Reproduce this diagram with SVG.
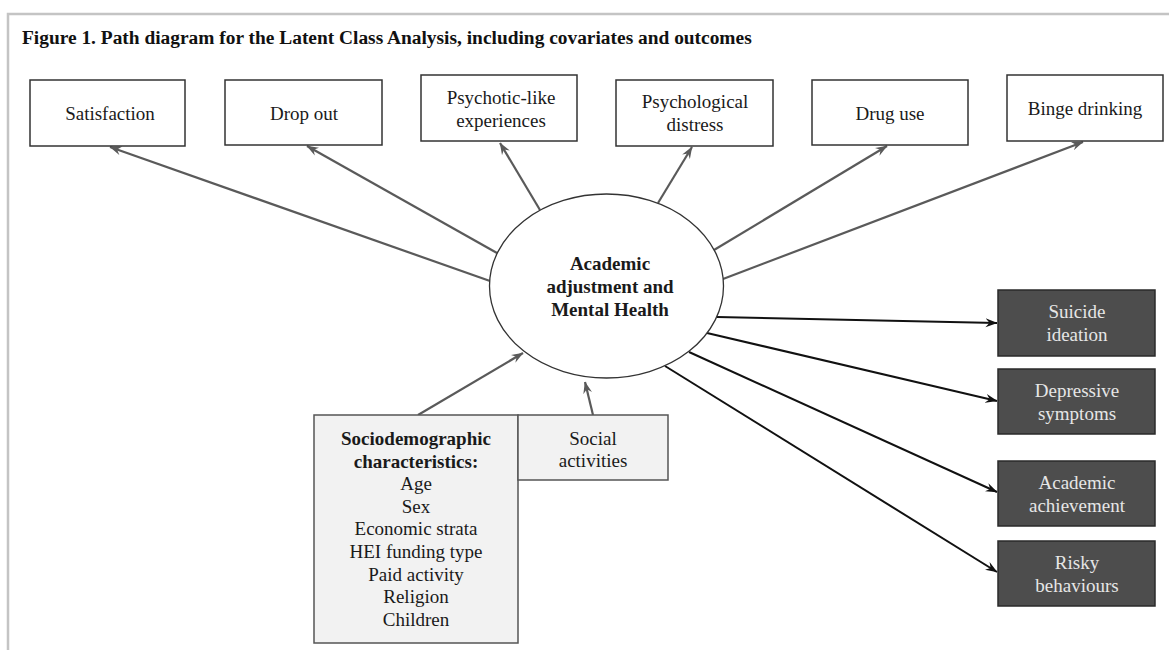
<svg xmlns="http://www.w3.org/2000/svg" width="1169" height="650" viewBox="0 0 1169 650">
<defs>
<style>
text{font-family:"Liberation Serif","Times New Roman",serif;font-size:19px;text-anchor:middle;fill:#1a1a1a}
.title{font-size:19.4px;font-weight:bold;text-anchor:start;fill:#111}
.b{font-weight:bold}
.box{fill:#fff;stroke:#333;stroke-width:1.5}
.cov{fill:#f2f2f2;stroke:#555;stroke-width:1.5}
.out{fill:#4d4d4d;stroke:#2a2a2a;stroke-width:1.5}
.lt{fill:#e6e6e6}
.g{stroke:#5a5a5a;stroke-width:2.2;fill:none;marker-end:url(#ag)}
.k{stroke:#111;stroke-width:2;fill:none;marker-end:url(#ak)}
</style>
<marker id="ag" viewBox="0 0 12 10" refX="11.5" refY="5" markerWidth="12" markerHeight="10" markerUnits="userSpaceOnUse" orient="auto">
<path d="M0,0.5 L12,5 L0,9.5 L4,5 Z" fill="#5a5a5a"/>
</marker>
<marker id="ak" viewBox="0 0 12 10" refX="11.5" refY="5" markerWidth="12" markerHeight="10" markerUnits="userSpaceOnUse" orient="auto">
<path d="M0,0.5 L12,5 L0,9.5 L4,5 Z" fill="#111"/>
</marker>
</defs>
<rect width="1169" height="650" fill="#fff"/>
<path d="M8,650 L8,14 L1169,14" fill="none" stroke="#c4c4c4" stroke-width="2.5"/>
<text class="title" x="22" y="44">Figure 1. Path diagram for the Latent Class Analysis, including covariates and outcomes</text>

<g id="connectors">
<line class="g" x1="490" y1="281" x2="110" y2="147"/>
<line class="g" x1="497" y1="253" x2="307" y2="146"/>
<line class="g" x1="540" y1="210" x2="500" y2="143"/>
<line class="g" x1="658" y1="203" x2="692" y2="147"/>
<line class="g" x1="714" y1="250" x2="887" y2="146"/>
<line class="g" x1="723" y1="279" x2="1083" y2="142"/>
<line class="k" x1="717" y1="317" x2="997" y2="323"/>
<line class="k" x1="707" y1="333" x2="997" y2="401"/>
<line class="k" x1="689" y1="352" x2="997" y2="492"/>
<line class="k" x1="665" y1="366" x2="997" y2="572"/>
<line class="g" x1="418" y1="415" x2="523" y2="353"/>
<line class="g" x1="593" y1="415" x2="585" y2="382"/>
</g>

<g id="satisfaction"><rect class="box" x="30" y="80" width="155" height="66"/><text x="110" y="120">Satisfaction</text></g>
<g id="dropout"><rect class="box" x="225" y="80" width="157" height="65"/><text x="304" y="120">Drop out</text></g>
<g id="psychotic"><rect class="box" x="421" y="75" width="156" height="66"/><text x="501" y="104">Psychotic-like</text><text x="501" y="127">experiences</text></g>
<g id="distress"><rect class="box" x="616" y="80" width="157" height="66"/><text x="695" y="108">Psychological</text><text x="695" y="131">distress</text></g>
<g id="druguse"><rect class="box" x="812" y="80" width="156" height="65"/><text x="890" y="120">Drug use</text></g>
<g id="binge"><rect class="box" x="1007" y="75" width="156" height="66"/><text x="1085" y="115">Binge drinking</text></g>

<g id="latent"><ellipse cx="606.5" cy="286" rx="117" ry="92" fill="#fff" stroke="#333" stroke-width="1.3"/>
<text class="b" x="610" y="270">Academic</text><text class="b" x="610" y="293">adjustment and</text><text class="b" x="610" y="316">Mental Health</text></g>

<g id="sociodemographic"><rect class="cov" x="314" y="415" width="204" height="228"/>
<text class="b" x="416" y="445">Sociodemographic</text><text class="b" x="416" y="467.6">characteristics:</text>
<text x="416" y="490.2">Age</text><text x="416" y="512.8">Sex</text><text x="416" y="535.4">Economic strata</text><text x="416" y="558">HEI funding type</text><text x="416" y="580.6">Paid activity</text><text x="416" y="603.2">Religion</text><text x="416" y="625.8">Children</text></g>
<g id="social"><rect class="cov" x="518" y="415" width="150" height="65"/><text x="593" y="445">Social</text><text x="593" y="467">activities</text></g>

<g id="suicide"><rect class="out" x="998" y="290" width="157" height="66"/><text class="lt" x="1077" y="318">Suicide</text><text class="lt" x="1077" y="341">ideation</text></g>
<g id="depressive"><rect class="out" x="998" y="369" width="157" height="65"/><text class="lt" x="1077" y="397">Depressive</text><text class="lt" x="1077" y="420">symptoms</text></g>
<g id="achievement"><rect class="out" x="998" y="461" width="157" height="65"/><text class="lt" x="1077" y="489">Academic</text><text class="lt" x="1077" y="512">achievement</text></g>
<g id="risky"><rect class="out" x="998" y="541" width="157" height="65"/><text class="lt" x="1077" y="569">Risky</text><text class="lt" x="1077" y="592">behaviours</text></g>
</svg>
